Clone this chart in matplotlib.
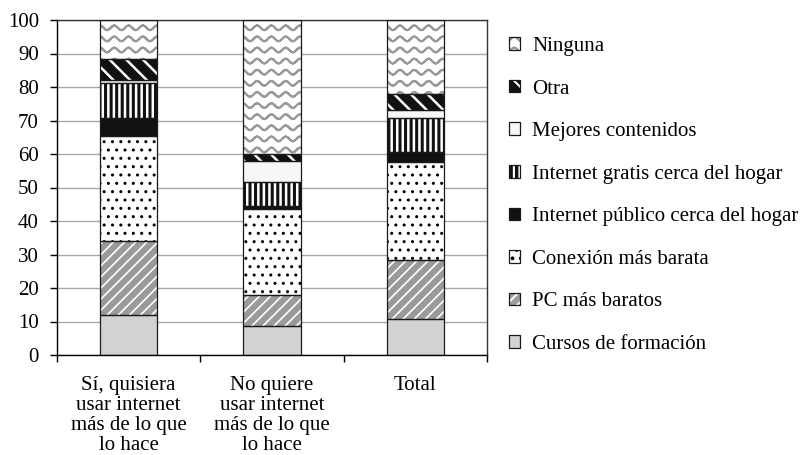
import warnings
import numpy as np
import matplotlib
matplotlib.use("Agg")
import matplotlib.pyplot as plt
from matplotlib import hatch as mhatch
from matplotlib.path import Path
from matplotlib.ticker import FixedLocator

warnings.filterwarnings("ignore")

# --- Data (percent, stacked bottom -> top) ---
groups = [
    "Sí, quisiera\nusar internet\nmás de lo que\nlo hace",
    "No quiere\nusar internet\nmás de lo que\nlo hace",
    "Total",
]
series = [
    "Cursos de formación",
    "PC más baratos",
    "Conexión más barata",
    "Internet público cerca del hogar",
    "Internet gratis cerca del hogar",
    "Mejores contenidos",
    "Otra",
    "Ninguna",
]
cursos = [11.8, 8.7, 10.7]
pc_baratos = [22.2, 9.1, 17.7]
conexion = [31.5, 25.7, 29.3]
publico = [5.3, 1.0, 3.0]
gratis = [10.3, 7.2, 9.9]
mejores = [1.0, 6.1, 2.5]
otra = [6.2, 2.2, 4.7]
ninguna = [11.7, 40.0, 22.2]
values = [cursos, pc_baratos, conexion, publico, gratis, mejores, otra, ninguna]
yticks = list(range(0, 101, 10))


# --- custom wavy hatch ('~') for "Ninguna" ---
class WaveHatch(mhatch.HatchPatternBase):
    def __init__(self, hatch, density):
        self.rows = 9 if "~" in hatch else 0
        self.periods = 7
        self.steps = self.periods * 8
        self.num_vertices = self.rows * 2 * (self.steps + 1)

    def set_vertices_and_codes(self, vertices, codes):
        n = self.steps + 1
        t = np.linspace(0, 1, n)
        wave = 0.024 * np.cos(2 * np.pi * self.periods * t)
        for r in range(self.rows):
            y0 = (r + 0.5) / self.rows
            fwd = np.column_stack([t, y0 + wave])
            vertices[r * 2 * n:(r + 1) * 2 * n] = np.vstack([fwd, fwd[::-1]])
            codes[r * 2 * n:(r + 1) * 2 * n] = Path.LINETO
            codes[r * 2 * n] = Path.MOVETO


mhatch._hatch_types.append(WaveHatch)

# face, hatch, hatch colour, hatch linewidth
STYLES = {
    "Cursos de formación": ("#d2d2d4", None, "#d2d2d4", 1.0),
    "PC más baratos": ("#9a9a9a", "///", "white", 1.2),
    "Conexión más barata": ("white", "..", "black", 1.0),
    "Internet público cerca del hogar": ("#111111", None, "#111111", 1.0),
    "Internet gratis cerca del hogar": ("#111111", "|||", "white", 1.8),
    "Mejores contenidos": ("#f7f7f7", None, "#f7f7f7", 1.0),
    "Otra": ("#111111", "\\\\", "white", 1.8),
    "Ninguna": ("white", "~", "#9a9a9a", 1.5),
}

plt.rcParams["font.family"] = ["Liberation Serif", "DejaVu Serif"]
plt.rcParams["font.size"] = 15

fig = plt.figure(figsize=(8.07, 4.55), dpi=100)
ax = fig.add_axes([57 / 807, 1 - 355 / 455, 430 / 807, 335 / 455])

x = np.arange(len(groups))
width = 0.4
bottoms = np.zeros(len(groups))
handles = []
for name, vals in zip(series, values):
    face, hatch, hcol, hlw = STYLES[name]
    plt.rcParams["hatch.linewidth"] = hlw
    fill = ax.bar(x, vals, width, bottom=bottoms, color=face, hatch=hatch,
                  edgecolor=hcol, linewidth=0, zorder=2)
    edge = ax.bar(x, vals, width, bottom=bottoms, fill=False,
                  edgecolor="#1a1a1a", linewidth=0.9, zorder=3)
    handles.append((fill[0], edge[0]))
    bottoms += np.array(vals)

# --- Axes styling ---
ax.set_xlim(-0.5, len(groups) - 0.5)
ax.set_ylim(0, 100)
ax.set_yticks(yticks)
ax.yaxis.grid(True, color="#a8a8a8", linewidth=1.0, zorder=0)
ax.set_axisbelow(True)
ax.tick_params(axis="y", direction="out", length=5, width=1, pad=8)

ax.set_xticks(x)
ax.set_xticklabels(groups, linespacing=1.07)
ax.xaxis.set_minor_locator(FixedLocator(np.arange(-0.5, len(groups), 1.0)))
ax.tick_params(axis="x", which="major", length=0, pad=15)
ax.tick_params(axis="x", which="minor", direction="out", length=5, width=1)

for side in ["left", "bottom"]:
    ax.spines[side].set_color("black")
    ax.spines[side].set_linewidth(1.0)
for side in ["top", "right"]:
    ax.spines[side].set_color("#333333")
    ax.spines[side].set_linewidth(1.0)

# --- Legend (top to bottom: Ninguna ... Cursos) ---
fig.legend(handles[::-1], series[::-1], loc="upper left",
           bbox_to_anchor=(509 / 807, 1 - 37 / 455), frameon=False,
           handlelength=0.55, handleheight=0.55, handletextpad=0.55,
           labelspacing=1.13, borderpad=0, borderaxespad=0, fontsize=15)

fig.savefig("out.png", dpi=100, facecolor="white")
